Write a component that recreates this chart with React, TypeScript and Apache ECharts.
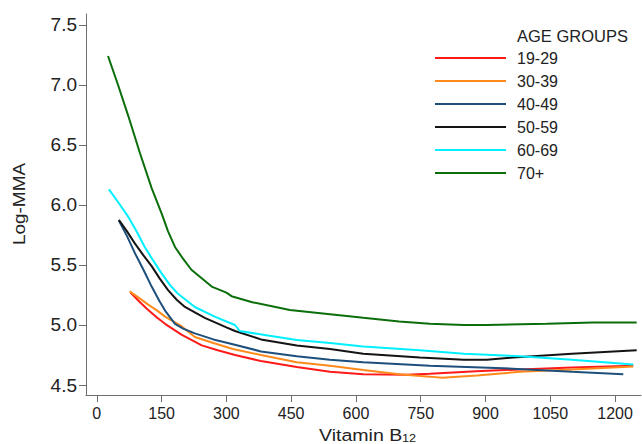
import React, { useEffect, useRef } from "react";
import * as echarts from "echarts";

const seriesNames = ["19-29", "30-39", "40-49", "50-59", "60-69", "70+"];
const seriesColors = ["#ff1a1a", "#ff8a1c", "#1d4f7c", "#141414", "#00f0ff", "#0a6e0a"];

const age19_29 = [[78,5.27],[100,5.19],[119,5.125],[140,5.06],[158,5.01],[196,4.92],[243,4.83],[280,4.79],[320,4.75],[380,4.70],[463,4.65],[540,4.61],[617,4.59],[717,4.585],[771,4.595],[878,4.615],[980,4.63],[1100,4.645],[1242,4.66]];
const age30_39 = [[76,5.28],[100,5.22],[119,5.17],[140,5.12],[158,5.07],[196,4.99],[227,4.90],[270,4.85],[315,4.80],[380,4.75],[463,4.69],[540,4.66],[617,4.625],[700,4.59],[771,4.57],[800,4.56],[880,4.58],[980,4.61],[1100,4.63],[1242,4.655]];
const age40_49 = [[51,5.87],[70,5.74],[88,5.60],[108,5.46],[127,5.32],[145,5.20],[158,5.12],[181,5.01],[200,4.97],[227,4.93],[270,4.88],[315,4.84],[380,4.78],[463,4.74],[540,4.71],[617,4.69],[771,4.66],[941,4.64],[1100,4.61],[1219,4.59]];
const age50_59 = [[51,5.875],[70,5.78],[88,5.68],[108,5.58],[127,5.49],[145,5.39],[165,5.29],[185,5.21],[204,5.15],[250,5.06],[300,4.98],[320,4.95],[380,4.88],[463,4.83],[540,4.80],[617,4.76],[748,4.73],[850,4.71],[903,4.71],[964,4.73],[1100,4.76],[1250,4.79]];
const age60_69 = [[28,6.13],[50,6.02],[73,5.90],[92,5.78],[111,5.65],[130,5.54],[150,5.43],[170,5.33],[188,5.26],[227,5.15],[273,5.07],[320,5.0],[331,4.95],[400,4.91],[463,4.875],[540,4.85],[617,4.82],[748,4.79],[850,4.76],[980,4.74],[1100,4.71],[1242,4.67]];
const age70plus = [[26,7.24],[50,6.99],[73,6.74],[100,6.43],[127,6.14],[150,5.93],[165,5.78],[181,5.65],[200,5.55],[219,5.46],[266,5.32],[300,5.27],[312,5.24],[360,5.19],[447,5.125],[540,5.09],[617,5.06],[700,5.03],[771,5.01],[850,5.0],[903,5.0],[1042,5.01],[1150,5.02],[1250,5.02]];

const seriesData = [age19_29, age30_39, age40_49, age50_59, age60_69, age70plus];

const xTicks = [0, 150, 300, 450, 600, 750, 900, 1050, 1200];
const yTicks = [4.5, 5.0, 5.5, 6.0, 6.5, 7.0, 7.5];

const FONT = "Liberation Sans, Arial, sans-serif";

export default function App() {
  const ref = useRef<HTMLDivElement>(null);
  useEffect(() => {
    document.body.style.margin = "0";
    if (!ref.current) return;
    const chart = echarts.init(ref.current, undefined, { renderer: "svg" });
    const axisColor = "#6e6e6e";
    chart.setOption({
      animation: false,
      backgroundColor: "#ffffff",
      textStyle: { fontFamily: FONT },
      grid: { left: 86, right: 1, top: 14, bottom: 49, containLabel: false },
      xAxis: {
        type: "value",
        min: -25,
        max: 1260,
        axisLine: { show: true, onZero: false, lineStyle: { color: axisColor, width: 1 } },
        axisTick: { show: true, length: 7, lineStyle: { color: axisColor }, customValues: xTicks },
        axisLabel: { color: "#222", fontSize: 16, margin: 10, fontFamily: FONT, customValues: xTicks, formatter: (v: number) => String(v) },
        splitLine: { show: false },
      },
      yAxis: {
        type: "value",
        min: 4.417,
        max: 7.59,
        axisLine: { show: true, onZero: false, lineStyle: { color: axisColor, width: 1 } },
        axisTick: { show: true, length: 7, lineStyle: { color: axisColor }, customValues: yTicks },
        axisLabel: { color: "#222", fontSize: 19, margin: 9, fontFamily: FONT, customValues: yTicks, formatter: (v: number) => v.toFixed(1) },
        splitLine: { show: false },
      },
      legend: {
        orient: "vertical",
        left: 430,
        top: 45,
        icon: "rect",
        itemWidth: 71,
        itemHeight: 2,
        itemGap: 7,
        textStyle: { color: "#222", fontSize: 16, fontFamily: FONT, padding: [0, 0, 0, 6] },
        data: seriesNames,
      },
      graphic: [
        { type: "text", x: 517, y: 35.5, style: { text: "AGE GROUPS", fill: "#222", fontSize: 16.5, fontFamily: FONT, align: "left", verticalAlign: "middle" } },
        { type: "text", x: 19.5, y: 204, rotation: Math.PI / 2, scaleX: 1.15, style: { text: "Log-MMA", fill: "#222", fontSize: 16.5, fontFamily: FONT, align: "center", verticalAlign: "middle" } },
        { type: "text", x: 319, y: 434.5, scaleX: 1.15, style: { text: "Vitamin B", fill: "#222", fontSize: 17, fontFamily: FONT, align: "left", verticalAlign: "middle" } },
        { type: "text", x: 402, y: 438.5, scaleX: 1.1, style: { text: "12", fill: "#222", fontSize: 11.5, fontFamily: FONT, align: "left", verticalAlign: "middle" } },
      ],
      series: seriesNames.map((name, i) => ({
        name,
        type: "line",
        data: seriesData[i],
        showSymbol: false,
        symbol: "none",
        color: seriesColors[i],
        lineStyle: { color: seriesColors[i], width: 2 },
        clip: true,
      })),
    });
    return () => chart.dispose();
  }, []);
  return <div ref={ref} style={{ width: 642, height: 444 }} />;
}
